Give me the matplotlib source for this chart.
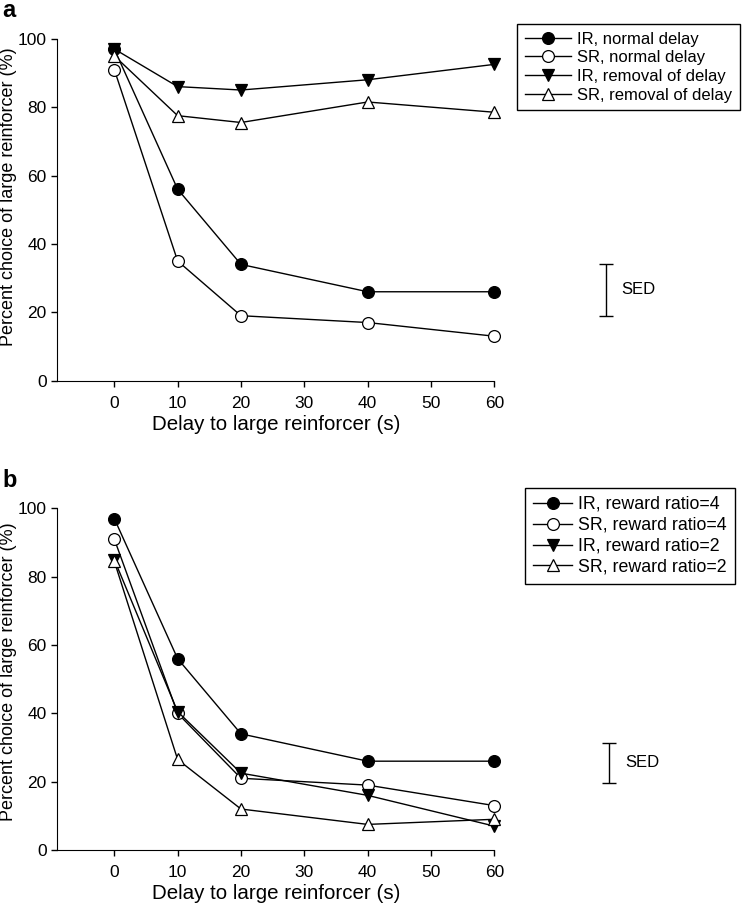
import numpy as np
import matplotlib
matplotlib.use("Agg")
import matplotlib.pyplot as plt

plt.rcParams['font.family'] = ['Liberation Sans', 'DejaVu Sans']

delays = [0, 10, 20, 40, 60]

# panel a
ir_normal = [97, 56, 34, 26, 26]
sr_normal = [91, 35, 19, 17, 13]
ir_removal = [97, 86, 85, 88, 92.5]
sr_removal = [95, 77.5, 75.5, 81.5, 78.5]
labels_a = ["IR, normal delay", "SR, normal delay", "IR, removal of delay", "SR, removal of delay"]
sed_a_low, sed_a_high = 19.0, 34.1

# panel b
ir_ratio4 = [97, 56, 34, 26, 26]
sr_ratio4 = [91, 40, 21, 19, 13]
ir_ratio2 = [85, 40.5, 22.5, 16, 7]
sr_ratio2 = [84.5, 26.5, 12, 7.5, 9]
labels_b = ["IR, reward ratio=4", "SR, reward ratio=4", "IR, reward ratio=2", "SR, reward ratio=2"]
sed_b_low, sed_b_high = 19.7, 31.4

styles = [('o', 'black'), ('o', 'white'), ('v', 'black'), ('^', 'white')]

fig = plt.figure(figsize=(7.42, 9.07), dpi=100)
ax_a = fig.add_axes([0.0772, 0.5803, 0.589, 0.377])
ax_b = fig.add_axes([0.0772, 0.0628, 0.589, 0.3768])


def draw_panel(ax, series, labels, sed_low, sed_high, sed_x, ylab_y, legend_anchor, legend_fs, hlen):
    handles = []
    for ys, (m, fc), lab in zip(series, styles, labels):
        h, = ax.plot(delays, ys, '-', color='black', lw=1, marker=m, markersize=8.5,
                     markerfacecolor=fc, markeredgecolor='black', markeredgewidth=0.9,
                     label=lab, clip_on=False, zorder=3)
        handles.append(h)
    ax.set_xlim(-9, 60)
    ax.set_ylim(0, 100)
    ax.set_xticks([0, 10, 20, 30, 40, 50, 60])
    ax.set_yticks([0, 20, 40, 60, 80, 100])
    ax.spines['top'].set_visible(False)
    ax.spines['right'].set_visible(False)
    ax.tick_params(direction='out', length=4, width=1, labelsize=12.5)
    ax.tick_params(axis='x', pad=7)
    ax.tick_params(axis='y', pad=3.5)
    ax.set_xlabel('Delay to large reinforcer (s)', fontsize=14.8, labelpad=3)
    ax.set_ylabel('Percent choice of large reinforcer (%)', fontsize=13)
    ax.yaxis.set_label_coords(-0.092, ylab_y)

    # SED bar outside the axes
    ax.errorbar([sed_x], [(sed_low + sed_high) / 2], yerr=[(sed_high - sed_low) / 2],
                color='black', lw=1, capsize=5, capthick=1, clip_on=False)
    ax.text(sed_x + 2.5, (sed_low + sed_high) / 2, 'SED', fontsize=12, va='center', ha='left')

    leg = fig.legend(handles=handles, loc='upper left', bbox_to_anchor=legend_anchor,
                     fontsize=legend_fs, frameon=True, fancybox=False, edgecolor='black',
                     handlelength=hlen, labelspacing=0.22, borderpad=0.45, handletextpad=0.35,
                     borderaxespad=0, framealpha=1)
    leg.get_frame().set_linewidth(1)


draw_panel(ax_a, [ir_normal, sr_normal, ir_removal, sr_removal], labels_a,
           sed_a_low, sed_a_high, 77.6, 0.539, (0.6968, 0.9735), 12, 2.8)
draw_panel(ax_b, [ir_ratio4, sr_ratio4, ir_ratio2, sr_ratio2], labels_b,
           sed_b_low, sed_b_high, 78.1, 0.522, (0.7075, 0.462), 12.8, 2.2)

fig.text(0.003, 0.981, 'a', fontsize=17, fontweight='bold', va='baseline', ha='left')
fig.text(0.003, 0.463, 'b', fontsize=17, fontweight='bold', va='baseline', ha='left')

fig.savefig('out.png', dpi=100)
